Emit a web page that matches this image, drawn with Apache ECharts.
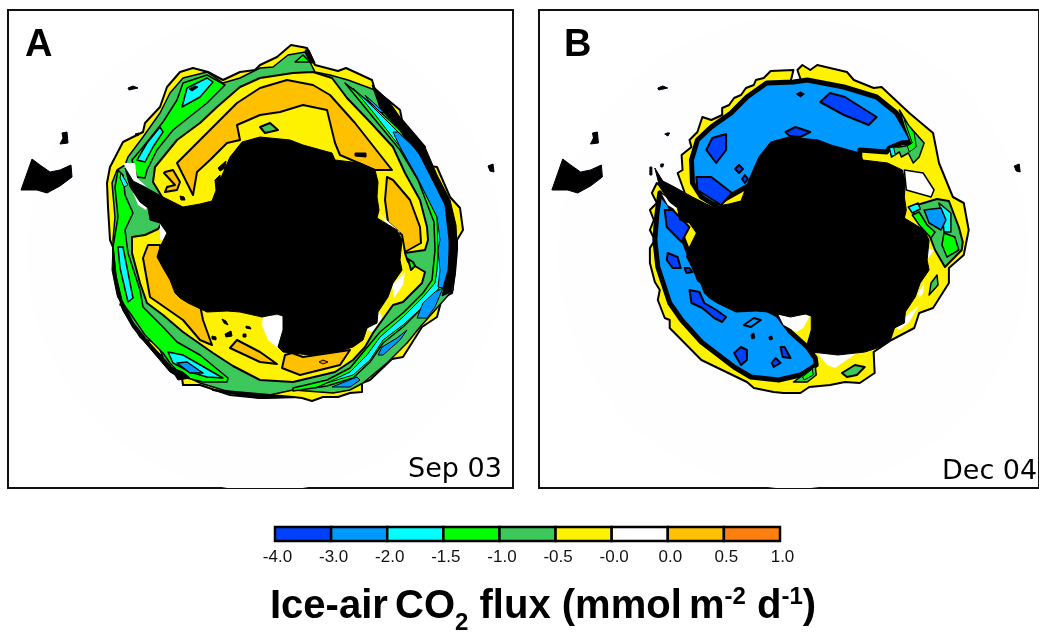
<!DOCTYPE html>
<html><head><meta charset="utf-8">
<style>html,body{margin:0;padding:0;background:#fff}#c{width:1039px;height:632px}</style>
<script src="https://cdn.jsdelivr.net/npm/echarts@6/dist/echarts.min.js"></script></head>
<body><div id="c"></div>
<script>
// ---- map outlines, in map units shared by both panels ----
const continent=[[125,168],[133,181],[143,186],[163,197],[183,207],[200,204],[212,201],[220,180],[230,157],[242,142],[260,137],[290,140],[303,145],[332,153],[335,160],[360,163],[375,170],[378,182],[377,197],[379,210],[377,218],[397,230],[402,240],[400,260],[402,270],[393,283],[388,297],[378,312],[377,323],[367,328],[363,340],[353,347],[337,352],[310,355],[283,352],[278,347],[283,330],[283,316],[277,314],[262,317],[240,312],[227,311],[207,312],[188,303],[180,298],[175,293],[170,280],[163,268],[157,257],[160,247],[167,233],[160,223],[150,220],[148,208],[140,202],[130,187]];
const southAmerica=[[32,159],[40,165],[50,172],[60,170],[71,165],[72,177],[60,186],[47,193],[37,190],[21,190]];
const islandW=[[62,133],[67,132],[68,143],[60,144],[63,138]];
const islandN=[[128,88],[133,86],[138,88],[129,90]];
const islandE=[[488,166],[493,164],[494,172],[490,171]];
const islandS=[[135,134],[139,133],[138,136]];
const islandB1=[[120,167],[122,167],[122,175],[120,175]];
const islandB2=[[131,164],[134,164],[133,167],[131,167]];
const islandB3=[[137,133],[140,133],[138,136]];

// ---- panel A (Sep 03) contours ----
const aFringe=[[291,45],[302,47],[307,48],[315,65],[338,71],[346,68],[372,80],[375,90],[388,100],[400,110],[402,120],[425,147],[425,158],[430,166],[437,167],[450,197],[460,208],[463,230],[457,240],[457,250],[455,273],[452,293],[442,298],[437,317],[422,327],[403,357],[392,359],[370,380],[362,383],[362,392],[350,393],[338,397],[323,397],[312,401],[302,398],[293,397],[260,398],[230,395],[200,385],[183,385],[182,378],[170,370],[163,360],[147,343],[133,327],[122,307],[115,277],[113,247],[110,240],[108,207],[107,183],[110,167],[123,142],[143,132],[145,123],[160,107],[167,87],[180,72],[193,68],[208,72],[223,80],[240,72],[255,70],[260,65],[277,57]];
const aSea=[[288,55],[305,52],[315,72],[330,75],[348,80],[375,90],[400,123],[423,157],[447,200],[455,233],[457,240],[453,290],[420,327],[407,343],[387,363],[363,383],[350,390],[333,393],[293,390],[260,397],[233,393],[200,383],[173,370],[160,357],[140,337],[123,310],[115,273],[113,240],[115,217],[112,183],[117,170],[125,165],[128,157],[143,137],[160,113],[170,93],[183,78],[207,72],[223,83],[240,78],[260,68],[273,67]];
const aGreenTop=[[295,62],[303,55],[310,62]];
const aBlackTop=[[305,50],[309,50],[315,63],[311,63]];
const aGreenNW=[[137,177],[132,160],[143,147],[163,122],[177,100],[183,83],[207,75],[225,85],[207,103],[173,130],[157,150],[147,170],[145,178]];
const aCyanNW1=[[182,107],[187,88],[207,78],[213,82],[200,97]];
const aCyanNW2=[[137,160],[147,143],[160,127],[163,132],[153,147],[145,162]];
const aSpotNW=[[189,89],[195,86],[198,87],[192,91]];
const aGreenW=[[118,170],[123,175],[125,195],[133,213],[125,230],[128,253],[140,290],[143,307],[163,327],[177,342],[200,355],[228,378],[227,382],[203,382],[183,377],[170,363],[163,353],[145,335],[130,313],[118,297],[113,247],[118,217],[115,187]];
const aCyanW1=[[121,173],[128,185],[124,187],[120,178]];
const aCyanW2=[[118,247],[123,247],[133,298],[128,302],[120,268]];
const aCyanSW=[[168,352],[183,355],[223,378],[207,377],[190,372],[173,363]];
const aBlueSW=[[177,363],[187,362],[203,373],[190,373]];
const aBlackSW=[[170,367],[183,372],[190,378],[178,380]];
const aYellowSW=[[147,340],[157,343],[163,357],[152,349]];
const aYellowW=[[122,298],[127,308],[120,305]];
const aEdgeE=[[372,85],[388,100],[402,120],[425,147],[437,175],[450,200],[456,225],[457,245],[455,275],[451,292],[442,296],[444,288],[449,270],[449,240],[445,205],[420,155],[398,128],[380,108]];
const aEdgeSW=[[113,245],[116,275],[122,300],[133,322],[147,340],[170,365],[180,378],[170,372],[147,345],[128,318],[117,295],[112,270]];
const aEdgeS=[[213,390],[260,398],[293,397]];
const aGreenE=[[345,83],[373,105],[400,130],[420,160],[445,205],[449,240],[448,270],[443,288],[425,305],[403,327],[383,343],[370,362],[353,378],[327,386],[293,391],[293,388],[327,380],[350,368],[365,350],[380,332],[403,313],[423,293],[432,280],[435,250],[434,222],[418,180],[400,150],[372,116]];
const aCyanE=[[353,88],[373,107],[398,132],[417,150],[445,203],[449,233],[448,270],[443,283],[427,303],[403,325],[383,340],[370,360],[353,375],[327,383],[315,388],[318,387],[350,372],[367,355],[380,337],[403,317],[423,297],[435,283],[437,270],[438,250],[437,217],[417,177],[400,147],[373,112]];
const aBlueE=[[398,132],[417,150],[445,203],[449,233],[450,240],[448,270],[443,288],[438,287],[440,270],[438,250],[440,240],[437,217],[417,177],[400,147],[393,132]];
const aBlueNE=[[365,95],[385,113],[380,112],[368,100]];
const aBlueSE1=[[443,288],[435,307],[427,318],[417,318],[423,303],[435,292]];
const aBlueSE2=[[382,347],[397,338],[407,330],[400,340],[383,355],[378,355]];
const aBlueS=[[332,387],[357,377],[360,380],[350,387]];
const aInner=[[153,182],[155,167],[177,140],[200,123],[217,107],[240,87],[260,78],[293,73],[313,72],[332,78],[347,98],[370,122],[393,147],[405,173],[420,200],[427,227],[428,240],[425,250],[405,253],[408,262],[425,272],[422,283],[403,302],[393,305],[373,333],[365,347],[353,360],[335,372],[293,382],[260,380],[233,366],[213,353],[183,332],[163,315],[147,303],[140,283],[132,253],[132,237],[145,235],[158,229],[170,210]];
const aOrangeMain=[[177,163],[197,143],[217,123],[237,103],[260,88],[287,80],[313,85],[330,95],[355,123],[392,170],[375,170],[340,155],[335,143],[327,110],[303,105],[280,112],[260,115],[237,125],[240,140],[227,143],[210,160],[197,172],[193,195]];
const aOrangeE=[[393,180],[410,200],[420,227],[421,243],[405,252],[402,235],[388,222],[385,200],[387,177]];
const aOrangeRing=[[165,172],[173,170],[180,182],[177,190],[165,192],[167,187],[175,185],[164,173]];
const aOrangeW=[[148,245],[143,258],[150,297],[183,320],[200,340],[212,345],[203,320],[200,305],[160,260],[160,245]];
const aOrangeS1=[[230,348],[237,340],[260,352],[277,364],[260,362]];
const aOrangeS2=[[282,368],[285,355],[292,353],[303,357],[350,350],[340,365],[300,375]];
const aDeep=[[319,362],[323,360],[328,362],[323,364]];
const aSeaN=[[260,127],[270,123],[278,130],[265,133]];
const aSeaE=[[408,259],[413,262],[415,266],[411,270]];
const aSpot1=[[222,319],[226,321],[228,325],[224,323]];
const aSpot2=[[225,334],[231,331],[232,336],[226,337]];
const aSpot3=[[246,326],[250,327],[251,329],[246,328]];
const aSpot4=[[212,336],[216,337],[216,340],[212,339]];
const aSpot5=[[243,334],[246,334],[246,337],[243,337]];
const aSpot6=[[204,290],[208,290],[208,294],[204,294]];
const aSpot7=[[180,196],[184,197],[185,200],[181,200]];
const aSpot8=[[218,168],[226,161],[225,168],[220,171]];
const aSpot9=[[215,180],[220,175],[221,184],[216,190]];
const aSpot10=[[355,153],[366,153],[366,157],[355,156]];
const aWhite1=[[123,163],[135,163],[137,178],[147,187],[134,182]];
const aWhite2=[[132,190],[148,205],[146,210],[138,205]];
const aWhite3=[[160,223],[166,221],[167,240],[160,240]];
const aWhite4=[[263,316],[283,316],[285,335],[278,348],[268,340],[262,325]];
const aWhite5=[[392,285],[405,272],[403,285],[394,298]];
const aWhite6=[[367,330],[380,312],[382,318],[372,332]];
const aWhite7=[[170,268],[175,266],[178,280],[172,278]];
const aWhite8=[[378,212],[381,215],[400,232],[396,235]];

// ---- panel B (Dec 04) contours ----
const bFringe=[[265,70],[242,71],[235,78],[227,80],[225,85],[217,88],[212,95],[205,98],[200,105],[193,108],[193,115],[182,120],[173,117],[168,132],[160,140],[162,147],[152,155],[153,170],[148,173],[156,195],[140,195],[127,183],[122,193],[127,203],[120,210],[124,220],[120,230],[125,240],[120,248],[120,263],[125,282],[130,290],[128,300],[135,318],[140,320],[140,328],[172,360],[218,382],[225,388],[245,392],[255,393],[272,393],[281,387],[302,385],[317,382],[332,383],[347,373],[346,352],[364,340],[387,328],[392,313],[406,308],[422,283],[422,268],[437,255],[442,230],[437,203],[426,197],[412,163],[406,133],[382,113],[354,87],[346,88],[326,80],[319,72],[289,65],[282,70],[274,65],[269,70],[300,160],[240,170]];
const bBlueN=[[265,82],[238,83],[218,97],[202,113],[182,127],[168,140],[162,160],[163,183],[172,197],[185,205],[230,180],[250,150],[300,160],[332,165],[332,150],[359,152],[362,148],[374,143],[386,142],[369,113],[349,97],[316,87],[279,80]];
const bBlueW=[[130,193],[127,215],[125,240],[128,267],[140,303],[152,320],[172,342],[205,367],[222,377],[250,380],[272,375],[288,365],[287,358],[279,347],[262,332],[249,315],[220,300],[170,280],[150,230],[140,205]];
const bSeaNE=[[372,110],[381,125],[397,143],[392,157],[386,163],[381,153],[374,157],[372,152],[364,157],[362,147],[372,147],[384,145],[377,127]];
const bGreenNE=[[377,120],[387,133],[389,147],[382,152],[380,146],[385,143]];
const bCyanNE=[[362,148],[366,147],[368,155],[364,156]];
const bWhiteE=[[377,170],[396,173],[407,190],[404,197],[379,190]];
const bSeaE=[[383,207],[410,199],[422,201],[432,227],[436,242],[435,250],[418,267],[408,250],[403,237],[395,225]];
const bGreenE=[[417,233],[428,237],[432,250],[420,257],[415,245]];
const bGreenE2=[[385,215],[392,212],[400,225],[408,232],[404,238],[392,225]];
const bCyanE=[[412,203],[424,213],[424,232],[417,232],[416,220]];
const bCyanE2=[[381,207],[391,203],[393,209],[385,213]];
const bBlueE=[[397,210],[414,208],[419,220],[414,230],[402,223]];
const bSeaS=[[314,373],[327,365],[337,367],[329,375],[319,377]];
const bSeaSE=[[404,283],[410,275],[411,285],[402,295]];
const bSeaB=[[272,377],[287,366],[288,375],[279,382],[265,382]];
const bGreenB=[[274,377],[284,369],[285,375],[276,380]];
const bWhite1=[[249,313],[282,315],[275,328],[268,332],[255,325]];
const bWhite2=[[289,353],[329,353],[307,368],[299,365]];
const bWhite3=[[391,293],[397,283],[396,293],[392,298]];
const bWhite4=[[367,327],[380,315],[392,305],[382,322],[372,330]];
const bWhite5=[[399,248],[407,250],[400,260]];
const bWhite6=[[132,194],[148,205],[146,210],[138,205]];
const bWhite7=[[165,270],[177,268],[177,280],[170,280]];
const bDeep1=[[177,150],[183,138],[197,134],[197,150],[187,163]];
const bDeep2=[[167,177],[182,177],[203,193],[192,205],[168,190]];
const bDeep3=[[206,169],[210,165],[214,169],[210,173]];
const bDeep4=[[213,179],[216,175],[219,179],[216,183]];
const bDeep5=[[135,210],[143,210],[160,227],[152,242],[137,227]];
const bDeep6=[[257,132],[267,127],[282,132],[272,137],[261,136]];
const bDeep7=[[292,102],[302,93],[317,97],[349,117],[341,125],[316,115]];
const bDeep8=[[138,253],[148,257],[151,268],[143,268],[137,260]];
const bDeep9=[[160,290],[170,292],[175,303],[187,310],[197,317],[193,322],[185,318],[173,308],[162,303]];
const bDeep10=[[205,353],[212,347],[218,350],[218,360],[212,365]];
const bDeep11=[[243,363],[247,358],[252,363],[245,367]];
const bDeep12=[[252,347],[256,347],[262,358],[254,357]];
const bDeep13=[[155,268],[160,268],[163,272],[157,273]];
const bSpot1=[[268,94],[272,92],[276,94],[272,97]];
const bSpot2=[[240,337],[243,336],[244,339],[241,340]];
const bRing3=[[215,325],[225,318],[232,320],[222,327]];
const bSpot4=[[222,335],[225,333],[226,338],[223,339]];

// ---- colour bar ----
const barColors=['#0040ff','#0099ff','#00ffff','#00ff00','#3cc85a','#fff200','#ffffff','#ffc000','#ff7f0e'];
const barTicks=['-4.0','-3.0','-2.0','-1.5','-1.0','-0.5','-0.0','0.0','0.5','1.0'];

const sea='#3cc85a',grn='#00ff00',cy='#00ffff',blu='#0099ff',deep='#0040ff',yel='#fff200',org='#ffc000',wht='#ffffff',blk='#000000';
const land=[[southAmerica,blk,1],[islandW,blk,1],[islandN,blk,1],[islandE,blk,1],[islandS,blk,1]];
const layersA=[
 [aFringe,yel,2],[aSea,sea,1.5],[aGreenTop,grn,1.5],[aBlackTop,blk,1],[aYellowSW,yel,1.5],[aYellowW,yel,1.5],
 [aGreenNW,grn,1.5],[aCyanNW1,cy,1.5],[aCyanNW2,cy,1.5],[aSpotNW,blk,1],
 [aGreenW,grn,1.5],[aCyanW1,cy,1],[aCyanW2,cy,1.5],[aCyanSW,cy,1.5],[aBlueSW,blu,1.5],[aBlackSW,blk,1],
 [aGreenE,grn,1.5],[aCyanE,cy,1],[aBlueE,blu,1],[aBlueNE,blu,1],[aBlueSE1,blu,1],[aBlueSE2,blu,1],[aBlueS,blu,1],
 [aEdgeE,blk,1],[aEdgeSW,blk,1],[aEdgeS,blk,2],
 [aInner,yel,2],[aOrangeMain,org,2],[aOrangeE,org,2],[aOrangeRing,org,2],[aOrangeW,org,2],[aOrangeS1,org,2],[aOrangeS2,org,2],[aDeep,'#ff7f0e',1],
 [aSeaN,sea,2],[aSeaE,grn,2],[aSpot1,blk,1],[aSpot2,blk,1],[aSpot3,blk,1],[aSpot4,blk,1],[aSpot5,blk,1],[aSpot6,blk,1],[aSpot7,blk,1],[aSpot8,blk,1],[aSpot9,blk,1],[aSpot10,blk,1],
 [aWhite1,wht,0],[aWhite2,wht,0],[aWhite3,wht,0],[aWhite4,wht,0],[aWhite5,wht,0],[aWhite6,wht,0],[aWhite7,wht,0],[aWhite8,wht,0],
 [continent,blk,1],...land];
const layersB=[
 [bFringe,yel,2],[bWhiteE,wht,1.5],[bBlueN,blu,5],[bBlueW,blu,5],
 [bSeaNE,sea,1.5],[bGreenNE,grn,1],[bCyanNE,cy,1],
 [bSeaE,sea,2],[bGreenE,grn,1.5],[bGreenE2,grn,1.5],[bCyanE,cy,1.5],[bCyanE2,cy,1.5],[bBlueE,blu,1.5],
 [bSeaS,sea,2],[bSeaSE,sea,1.5],[bSeaB,sea,1.5],[bGreenB,grn,1],
 [bDeep1,deep,2],[bDeep2,deep,2],[bDeep3,deep,2],[bDeep4,deep,2],[bDeep5,deep,2],[bDeep6,deep,2],[bDeep7,deep,2],[bDeep8,deep,2],[bDeep9,deep,2],[bDeep10,deep,2],[bDeep11,deep,2],[bDeep12,deep,2],[bDeep13,deep,2],
 [bSpot1,blk,1],[bSpot2,blk,1],[bRing3,blu,2],[bSpot4,blk,1],
 [bWhite1,wht,0],[bWhite2,wht,0],[bWhite3,wht,0],[bWhite4,wht,0],[bWhite5,wht,0],[bWhite6,wht,0],[bWhite7,wht,0],
 [continent,blk,1],...land,[islandB1,blk,1],[islandB2,blk,1],[islandB3,blk,1]];

function mapSeries(layers,idx){
 return {type:'custom',coordinateSystem:'cartesian2d',xAxisIndex:idx,yAxisIndex:idx,clip:true,silent:true,z:3,
  data:layers.map((l,i)=>[i]),
  renderItem:(p,api)=>{const l=layers[p.dataIndex];
   return {type:'polygon',shape:{points:l[0].map(c=>api.coord(c))},
    style:{fill:l[1],stroke:l[2]?'#000':null,lineWidth:l[2],lineJoin:'round'}};}};
}
function tintSeries(idx){
 return {type:'custom',coordinateSystem:'cartesian2d',xAxisIndex:idx,yAxisIndex:idx,clip:true,silent:true,z:2,
  data:[[265,253]],
  renderItem:(p,api)=>{const c=api.coord([api.value(0),api.value(1)]);
   return {type:'circle',shape:{cx:c[0],cy:c[1],r:api.size([238,0])[0]},style:{fill:'#fefdff'}};}};
}
const box=(left)=>({show:true,left,top:10,width:505,height:478,borderColor:'#111',borderWidth:2,backgroundColor:'#fff',containLabel:false});
const hx=(g)=>({type:'value',gridIndex:g,min:8,max:513,show:false});
const hy=(g)=>({type:'value',gridIndex:g,min:10,max:488,inverse:true,show:false});
const txt=(left,top,text,style)=>({type:'text',left,top,silent:true,z:20,style:Object.assign({text},style)});
const letter={font:'bold 38px "Liberation Sans"',fill:'#000'};
const stamp={font:'27px "DejaVu Sans"',fill:'#000'};
const chart=echarts.init(document.getElementById('c'),null,{renderer:'canvas'});
chart.setOption({animation:false,backgroundColor:'#fff',
 grid:[box(8),box(539),{left:275,top:527,width:505,height:14,show:false}],
 xAxis:[hx(0),hx(1),{type:'value',gridIndex:2,min:0,max:9,interval:1,
   axisLine:{show:false},axisTick:{show:false},splitLine:{show:false},
   axisLabel:{show:true,margin:8,color:'#111',fontFamily:'Liberation Sans',fontSize:17,showMinLabel:true,showMaxLabel:true,hideOverlap:false,padding:[0,0,0,5],
    formatter:v=>barTicks[v]}}],
 yAxis:[hy(0),hy(1),{type:'value',gridIndex:2,min:0,max:1,show:false}],
 series:[tintSeries(0),tintSeries(1),mapSeries(layersA,0),mapSeries(layersB,1),
  {type:'custom',coordinateSystem:'cartesian2d',xAxisIndex:2,yAxisIndex:2,silent:true,z:3,clip:false,
   data:barColors.map((c,i)=>[i,i+1]),
   renderItem:(p,api)=>{const a=api.coord([api.value(0),1]),b=api.coord([api.value(1),0]);
    return {type:'rect',shape:{x:a[0],y:a[1],width:b[0]-a[0],height:b[1]-a[1]},
     style:{fill:barColors[p.dataIndex],stroke:'#000',lineWidth:2.5}};}}],
 graphic:[
  txt(25,27,'A',letter),txt(564,27,'B',letter),
  txt(408,456,'Sep 03',stamp),txt(942,458,'Dec 04',stamp),
  {type:'text',left:270,top:585,silent:true,z:20,style:{
    text:'{b|Ice-air}{g| }{b|CO}{s|2}{b| flux (mmol}{g| }{b|m}{u|-2}{b| d}{u|-1}{b|)}',
    fill:'#000',
    rich:{
     b:{font:'bold 40px "Liberation Sans"',fill:'#000',lineHeight:44,verticalAlign:'middle'},
     g:{font:'bold 26px "Liberation Sans"',fill:'#000',lineHeight:44,verticalAlign:'middle'},
     s:{font:'bold 24px "Liberation Sans"',fill:'#000',lineHeight:24,verticalAlign:'bottom',padding:[0,0,-6,0]},
     u:{font:'bold 24px "Liberation Sans"',fill:'#000',lineHeight:24,verticalAlign:'top'}
    }}}
 ]});
</script></body></html>
